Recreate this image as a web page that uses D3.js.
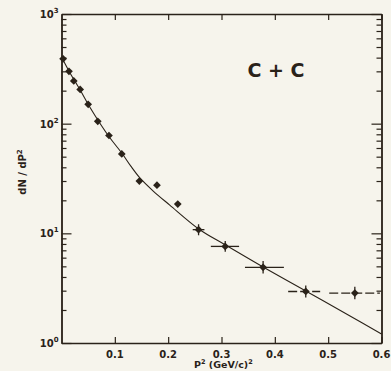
<!DOCTYPE html>
<html><head><meta charset="utf-8">
<script src="https://cdn.jsdelivr.net/npm/d3@7"></script>
<style>
html,body{margin:0;padding:0;background:#f6f4ec;}
svg{display:block;}
text{font-family:"DejaVu Sans",sans-serif;fill:#2a2219;}
</style></head>
<body>
<svg id="c" width="391" height="371"></svg>
<script>
// measured points: P^2 (GeV/c)^2 and dN/dP^2
const pT2 = [0.003, 0.014, 0.023, 0.035, 0.050, 0.068, 0.089, 0.113, 0.146, 0.179, 0.218, 0.257, 0.307, 0.378, 0.458, 0.550];
const dNdP2 = [390, 300, 245, 205, 150, 105, 78, 53, 30, 27.5, 18.5, 10.8, 7.6, 4.9, 2.95, 2.85];
// horizontal error bars (bin limits), null where not visible
const xLow  = [null,null,null,null,null,null,null,null,null,null,null,0.246,0.280,0.344,0.425,0.502];
const xHigh = [null,null,null,null,null,null,null,null,null,null,null,0.268,0.333,0.417,0.485,0.597];
// vertical error bars
const yLow  = [null,null,null,null,null,null,null,null,null,null,null,9.6,6.8,4.3,2.6,2.5];
const yHigh = [null,null,null,null,null,null,null,null,null,null,null,12.1,8.5,5.6,3.35,3.25];
// fitted curve
const fitP = [0, 0.016, 0.035, 0.053, 0.072, 0.091, 0.113, 0.130, 0.147, 0.172, 0.203, 0.258, 0.308, 0.378, 0.458, 0.541, 0.6];
const fitV = [405, 290, 203, 142, 101, 74, 54, 41, 32, 24.3, 18.1, 10.9, 7.8, 4.93, 2.98, 1.76, 1.21];
// axis ticks
const xTicks = [0.1, 0.2, 0.3, 0.4, 0.5, 0.6];
const xTickLabels = ["0.1", "0.2", "0.3", "0.4", "0.5", "0.6"];
const yMajor = [1, 10, 100, 1000];
const yMajorExp = ["0", "1", "2", "3"];

const ink = "#2a2219";
const svg = d3.select("#c");
const L = 61.5, R = 381.5, T = 14, B = 343;
const x = d3.scaleLinear().domain([0, 0.6]).range([L, R]);
const y = d3.scaleLog().domain([1, 1000]).range([B, T]);

const yMinor = [];
[1, 10, 100].forEach(d => { for (let k = 2; k <= 9; k++) yMinor.push(d * k); });

function styleAxis(g) {
  g.select(".domain").attr("stroke", ink).attr("stroke-width", 1.4);
  g.selectAll(".tick line").attr("stroke", ink).attr("stroke-width", 1.2);
  g.selectAll(".tick text").remove();
}
// bottom
svg.append("g").attr("transform", `translate(0,${B})`)
  .call(d3.axisBottom(x).tickValues(xTicks).tickSize(-6).tickSizeOuter(0)).call(styleAxis);
// top
svg.append("g").attr("transform", `translate(0,${T})`)
  .call(d3.axisTop(x).tickValues(xTicks).tickSize(-6).tickSizeOuter(0)).call(styleAxis);
// left
svg.append("g").attr("transform", `translate(${L},0)`)
  .call(d3.axisLeft(y).tickValues(yMajor).tickSize(-10).tickSizeOuter(0)).call(styleAxis);
svg.append("g").attr("transform", `translate(${L},0)`)
  .call(d3.axisLeft(y).tickValues(yMinor).tickSize(-5).tickSizeOuter(0)).call(styleAxis);
// right
svg.append("g").attr("transform", `translate(${R},0)`)
  .call(d3.axisRight(y).tickValues(yMajor).tickSize(-10).tickSizeOuter(0)).call(styleAxis);
svg.append("g").attr("transform", `translate(${R},0)`)
  .call(d3.axisRight(y).tickValues(yMinor).tickSize(-5).tickSizeOuter(0)).call(styleAxis);

// tick labels
xTicks.forEach((v, i) => {
  svg.append("text").attr("x", x(v)).attr("y", B + 15).attr("text-anchor", "middle")
    .attr("font-size", 10).attr("font-weight", "bold").text(xTickLabels[i]);
});
yMajor.forEach((v, i) => {
  const t = svg.append("text").attr("x", L - 3).attr("y", y(v) + 4).attr("text-anchor", "end")
    .attr("font-size", 10).attr("font-weight", "bold");
  t.append("tspan").text("10");
  t.append("tspan").attr("dy", -5).attr("font-size", 7).text(yMajorExp[i]);
});

// axis titles
const xt = svg.append("text").attr("x", 194).attr("y", 368).attr("font-size", 9.5).attr("font-weight", "bold");
xt.append("tspan").text("P");
xt.append("tspan").attr("dy", -4).attr("font-size", 6.5).text("2");
xt.append("tspan").attr("dy", 4).text(" (GeV/c)");
xt.append("tspan").attr("dy", -4).attr("font-size", 6.5).text("2");

const yt = svg.append("text").attr("transform", "translate(26,172) rotate(-90)")
  .attr("text-anchor", "middle").attr("font-size", 10).attr("font-weight", "bold");
yt.append("tspan").text("dN / dP");
yt.append("tspan").attr("dy", -4).attr("font-size", 7).text("2");

svg.append("text").attr("x", 276).attr("y", 77).attr("text-anchor", "middle")
  .attr("font-size", 19).attr("font-weight", "bold").text("C + C");

// fit curve
const line = d3.line().x((d, i) => x(fitP[i])).y((d, i) => y(fitV[i])).curve(d3.curveCatmullRom.alpha(0.5));
svg.append("path").attr("d", line(fitP)).attr("fill", "none").attr("stroke", ink).attr("stroke-width", 1.1);

// error bars
const pts = pT2.map((p, i) => ({p, v: dNdP2[i], xl: xLow[i], xh: xHigh[i], yl: yLow[i], yh: yHigh[i]}));
const eb = svg.append("g").attr("stroke", ink).attr("stroke-width", 1.3);
pts.filter(d => d.xl != null).forEach(d => {
  eb.append("line").attr("x1", x(d.xl)).attr("x2", x(d.xh)).attr("y1", y(d.v)).attr("y2", y(d.v))
    .attr("stroke-dasharray", d.p > 0.4 ? "9,3" : null);
  eb.append("line").attr("x1", x(d.p)).attr("x2", x(d.p)).attr("y1", y(d.yl)).attr("y2", y(d.yh));
});

// markers
svg.append("g").selectAll("path").data(pts).join("path")
  .attr("transform", d => `translate(${x(d.p)},${y(d.v)}) rotate(45)`)
  .attr("d", d3.symbol(d3.symbolSquare, 30)).attr("fill", ink);
</script>
</body></html>
